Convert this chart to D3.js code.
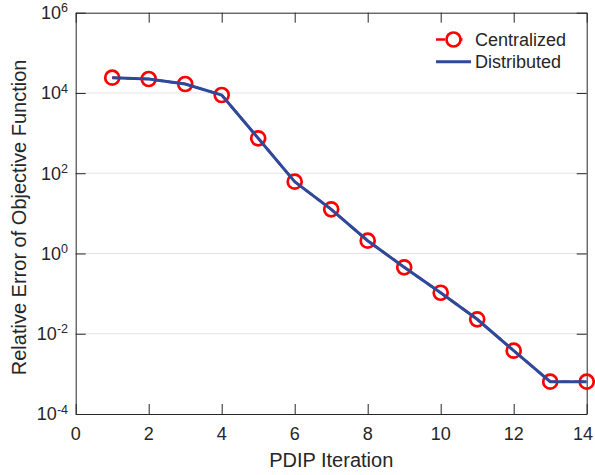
<!DOCTYPE html>
<html>
<head>
<meta charset="utf-8">
<script src="https://cdn.jsdelivr.net/npm/d3@7"></script>
<style>
  body { margin: 0; background: #fff; }
  text { font-family: "Liberation Sans", Arial, Helvetica, sans-serif; fill: #262626; }
</style>
</head>
<body>
<script>
// chart data
var iterations = [1, 2, 3, 4, 5, 6, 7, 8, 9, 10, 11, 12, 13, 14];
var centralized = [2.40e4, 2.23e4, 1.67e4, 8.9e3, 741, 61.5, 12.6, 2.08, 0.453, 0.105, 0.0229, 0.00378, 6.38e-4, 6.38e-4];
var distributed = [2.40e4, 2.23e4, 1.67e4, 8.9e3, 741, 61.5, 12.6, 2.08, 0.453, 0.105, 0.0229, 0.00378, 6.38e-4, 6.38e-4];
var xTicks = [0, 2, 4, 6, 8, 10, 12, 14];
var yExponents = [-4, -2, 0, 2, 4, 6];
var seriesNames = ["Centralized", "Distributed"];

var width = 595, height = 475;
// plot box (window.top is taken, so prefix everything)
var plotLeft = 75.7, plotRight = 586.7, plotTop = 12.7, plotBottom = 414;
var axisColor = "#262626";
var red = "#ff0000", blue = "#2c4a9b";

var svg = d3.select("body").append("svg")
  .attr("width", width)
  .attr("height", height);

// scales
var x = d3.scaleLinear().domain([0, 14]).range([plotLeft, plotRight]);
var y = d3.scaleLog().domain([1e-4, 1e6]).range([plotBottom, plotTop]);
var yTickValues = yExponents.map(function(e) { return Math.pow(10, e); });

// horizontal grid at each labelled decade
svg.append("g")
  .selectAll("line")
  .data(yTickValues.slice(1, -1))
  .enter().append("line")
  .attr("x1", plotLeft).attr("x2", plotRight)
  .attr("y1", function(d) { return y(d); })
  .attr("y2", function(d) { return y(d); })
  .attr("stroke", "#e3e3e3")
  .attr("stroke-width", 1);

// four sides of the box, ticks pointing inward
var xAxis = svg.append("g")
  .attr("transform", "translate(0," + plotBottom + ")")
  .call(d3.axisBottom(x).tickValues(xTicks).tickSizeInner(-10).tickSizeOuter(0).tickFormat(""));
var yAxis = svg.append("g")
  .attr("transform", "translate(" + plotLeft + ",0)")
  .call(d3.axisLeft(y).tickValues(yTickValues).tickSizeInner(-10).tickSizeOuter(0).tickFormat(""));
var xAxisTop = svg.append("g")
  .attr("transform", "translate(0," + plotTop + ")")
  .call(d3.axisTop(x).tickValues(xTicks).tickSizeInner(-10).tickSizeOuter(0).tickFormat(""));
var yAxisRight = svg.append("g")
  .attr("transform", "translate(" + plotRight + ",0)")
  .call(d3.axisRight(y).tickValues(yTickValues).tickSizeInner(-10).tickSizeOuter(0).tickFormat(""));

[xAxis, yAxis, xAxisTop, yAxisRight].forEach(function(a) {
  a.select(".domain").attr("stroke", axisColor).attr("stroke-width", 1);
  a.selectAll(".tick line").attr("stroke", axisColor).attr("stroke-width", 1);
});

// x tick labels (last one kept inside the page edge)
svg.append("g")
  .selectAll("text")
  .data(xTicks)
  .enter().append("text")
  .attr("x", function(d) { return Math.min(x(d), width - 12); })
  .attr("y", 439.5)
  .attr("text-anchor", "middle")
  .style("font-size", "18px")
  .text(function(d) { return d; });

// y tick labels as 10 with superscript exponent
var yLabels = svg.append("g")
  .selectAll("text")
  .data(yExponents)
  .enter().append("text")
  .attr("x", 68)
  .attr("y", function(d) { return y(Math.pow(10, d)); })
  .attr("dy", "0.36em")
  .attr("text-anchor", "end")
  .style("font-size", "18px");
yLabels.append("tspan").text("10");
yLabels.append("tspan")
  .attr("dy", "-0.55em")
  .style("font-size", "12.5px")
  .text(function(d) { return d; });

// axis titles
svg.append("text")
  .attr("x", (plotLeft + plotRight) / 2)
  .attr("y", 467)
  .attr("text-anchor", "middle")
  .style("font-size", "20px")
  .text("PDIP Iteration");
svg.append("text")
  .attr("transform", "translate(26," + ((plotTop + plotBottom) / 2 + 4) + ") rotate(-90)")
  .attr("text-anchor", "middle")
  .style("font-size", "20px")
  .text("Relative Error of Objective Function");

var line = d3.line()
  .x(function(d) { return x(d[0]); })
  .y(function(d) { return y(d[1]); });

// centralized: dashed red with circle markers
svg.append("path")
  .datum(d3.zip(iterations, centralized))
  .attr("d", line)
  .attr("fill", "none")
  .attr("stroke", red)
  .attr("stroke-width", 2.5)
  .attr("stroke-dasharray", "9,5");
svg.append("g")
  .selectAll("circle")
  .data(d3.zip(iterations, centralized))
  .enter().append("circle")
  .attr("cx", function(d) { return x(d[0]); })
  .attr("cy", function(d) { return y(d[1]); })
  .attr("r", 7)
  .attr("fill", "none")
  .attr("stroke", red)
  .attr("stroke-width", 2.7);

// distributed: solid blue on top
svg.append("path")
  .datum(d3.zip(iterations, distributed))
  .attr("d", line)
  .attr("fill", "none")
  .attr("stroke", blue)
  .attr("stroke-width", 3);

// legend
var legend = svg.append("g");
legend.append("line")
  .attr("x1", 436).attr("x2", 471).attr("y1", 39.5).attr("y2", 39.5)
  .attr("stroke", red).attr("stroke-width", 2.5)
  .attr("stroke-dasharray", "9,8.5");
legend.append("circle")
  .attr("cx", 453.5).attr("cy", 39.5).attr("r", 7)
  .attr("fill", "#fff").attr("stroke", red).attr("stroke-width", 2.7);
legend.append("line")
  .attr("x1", 436).attr("x2", 471).attr("y1", 61.8).attr("y2", 61.8)
  .attr("stroke", blue).attr("stroke-width", 3);
legend.selectAll("text")
  .data(seriesNames)
  .enter().append("text")
  .attr("x", 475)
  .attr("y", function(d, i) { return 39.5 + i * 22.3; })
  .attr("dy", "0.36em")
  .style("font-size", "18px")
  .text(function(d) { return d; });
</script>
</body>
</html>
